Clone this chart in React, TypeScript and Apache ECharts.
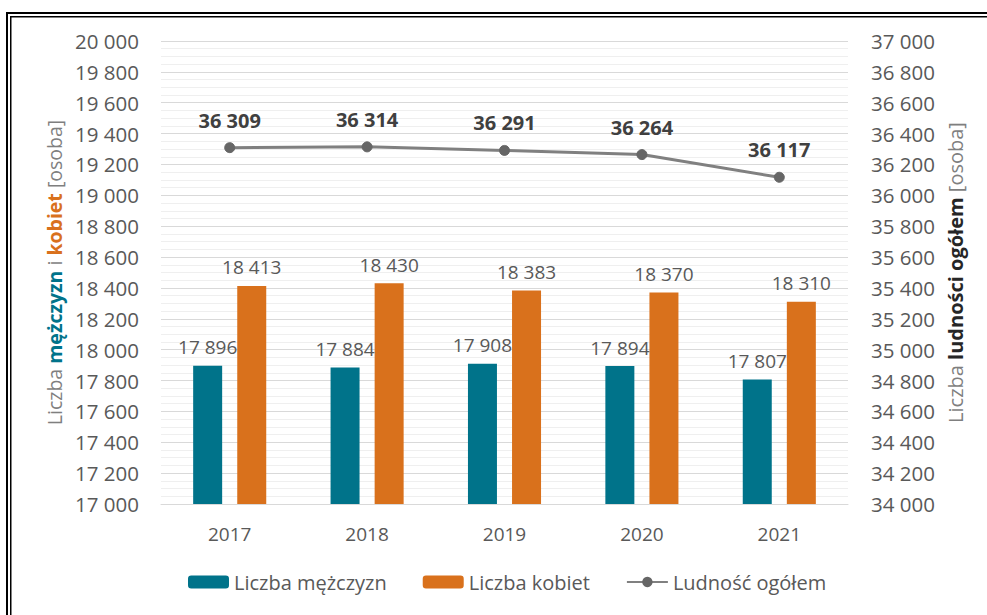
import React, { useEffect, useRef } from "react";
import * as echarts from "echarts";

const years = ["2017", "2018", "2019", "2020", "2021"];
const men = [17896, 17884, 17908, 17894, 17807];
const women = [18413, 18430, 18383, 18370, 18310];
const total = [36309, 36314, 36291, 36264, 36117];

const FONT = "Open Sans";
const fmt = (v: number) => String(v).replace(/\B(?=(\d{3})+(?!\d))/g, " ");

export default function App() {
  const ref = useRef<HTMLDivElement>(null);
  useEffect(() => {
    const chart = echarts.init(ref.current!, null, { renderer: "svg" });
    chart.setOption({
      animation: false,
      backgroundColor: "#fff",
      textStyle: { fontFamily: FONT },
      grid: { left: 161, right: 139, top: 41, bottom: 111 },
      legend: {
        left: 183,
        top: 567,
        itemWidth: 41,
        itemHeight: 13,
        itemGap: 36,
        textStyle: { fontFamily: FONT, fontSize: 20, color: "#595959" },
        data: ["Liczba mężczyzn", "Liczba kobiet", "Ludność ogółem"],
      },
      xAxis: {
        type: "category",
        data: years,
        axisLine: { lineStyle: { color: "#D9D9D9", width: 1 } },
        axisTick: { show: false },
        axisLabel: { color: "#595959", fontSize: 19, fontFamily: FONT, margin: 20 },
      },
      yAxis: [
        {
          type: "value",
          min: 17000,
          max: 20000,
          interval: 200,
          axisLine: { show: false },
          axisTick: { show: false },
          axisLabel: { color: "#595959", fontSize: 20.5, fontFamily: FONT, margin: 22, formatter: fmt },
          splitLine: { lineStyle: { color: "#D9D9D9", width: 1 } },
          minorTick: { show: false, splitNumber: 4 },
          minorSplitLine: { show: true, lineStyle: { color: "#EFEFEF", width: 1 } },
          name: "{g|Liczba }{t|mężczyzn}{g| i }{o|kobiet}{g| [osoba]}",
          nameLocation: "middle",
          nameRotate: 90,
          nameGap: 96,
          nameTextStyle: {
            rich: {
              g: { color: "#7F7F7F", fontSize: 19.5, fontFamily: FONT },
              t: { color: "#00738A", fontSize: 19.5, fontFamily: FONT, fontWeight: "bold" },
              o: { color: "#D9711C", fontSize: 19.5, fontFamily: FONT, fontWeight: "bold" },
            },
          },
        },
        {
          type: "value",
          min: 34000,
          max: 37000,
          interval: 200,
          position: "right",
          axisLine: { show: false },
          axisTick: { show: false },
          axisLabel: { color: "#595959", fontSize: 20.5, fontFamily: FONT, margin: 23, formatter: fmt },
          splitLine: { show: false },
          name: "{g|Liczba }{b|ludności ogółem}{g| [osoba]}",
          nameLocation: "middle",
          nameRotate: 90,
          nameGap: 97,
          nameTextStyle: {
            rich: {
              g: { color: "#7F7F7F", fontSize: 20, fontFamily: FONT },
              b: { color: "#262626", fontSize: 20, fontFamily: FONT, fontWeight: "bold" },
            },
          },
        },
      ],
      series: [
        {
          name: "Liczba mężczyzn",
          type: "bar",
          data: men,
          barWidth: 29,
          barGap: "52%",
          itemStyle: { color: "#00738A" },
          label: {
            show: true,
            position: "top",
            distance: 9,
            color: "#595959",
            fontSize: 19,
            fontFamily: FONT,
            formatter: (p: any) => fmt(p.value),
          },
        },
        {
          name: "Liczba kobiet",
          type: "bar",
          data: women,
          barWidth: 29,
          itemStyle: { color: "#D9711C" },
          label: {
            show: true,
            position: "top",
            distance: 9,
            color: "#595959",
            fontSize: 19,
            fontFamily: FONT,
            formatter: (p: any) => fmt(p.value),
          },
        },
        {
          name: "Ludność ogółem",
          type: "line",
          yAxisIndex: 1,
          data: total,
          symbol: "circle",
          symbolSize: 10,
          lineStyle: { color: "#808080", width: 3 },
          itemStyle: { color: "#666666", borderColor: "#666666" },
          label: {
            show: true,
            position: "top",
            distance: 12,
            color: "#404040",
            fontSize: 20,
            fontWeight: "bold",
            fontFamily: FONT,
            formatter: (p: any) => fmt(p.value),
          },
        },
      ],
      graphic: [
        {
          type: "rect",
          silent: true,
          shape: { x: 7, y: 13, width: 1100, height: 800 },
          style: { fill: "none", stroke: "#000", lineWidth: 2 },
        },
        {
          type: "rect",
          silent: true,
          shape: { x: 10.75, y: 16.75, width: 1100, height: 800 },
          style: { fill: "none", stroke: "#000", lineWidth: 1.5 },
        },
      ],
    });
    return () => chart.dispose();
  }, []);
  return (
    <div
      ref={ref}
      style={{ position: "fixed", left: 0, top: 0, width: 987, height: 615 }}
    />
  );
}
